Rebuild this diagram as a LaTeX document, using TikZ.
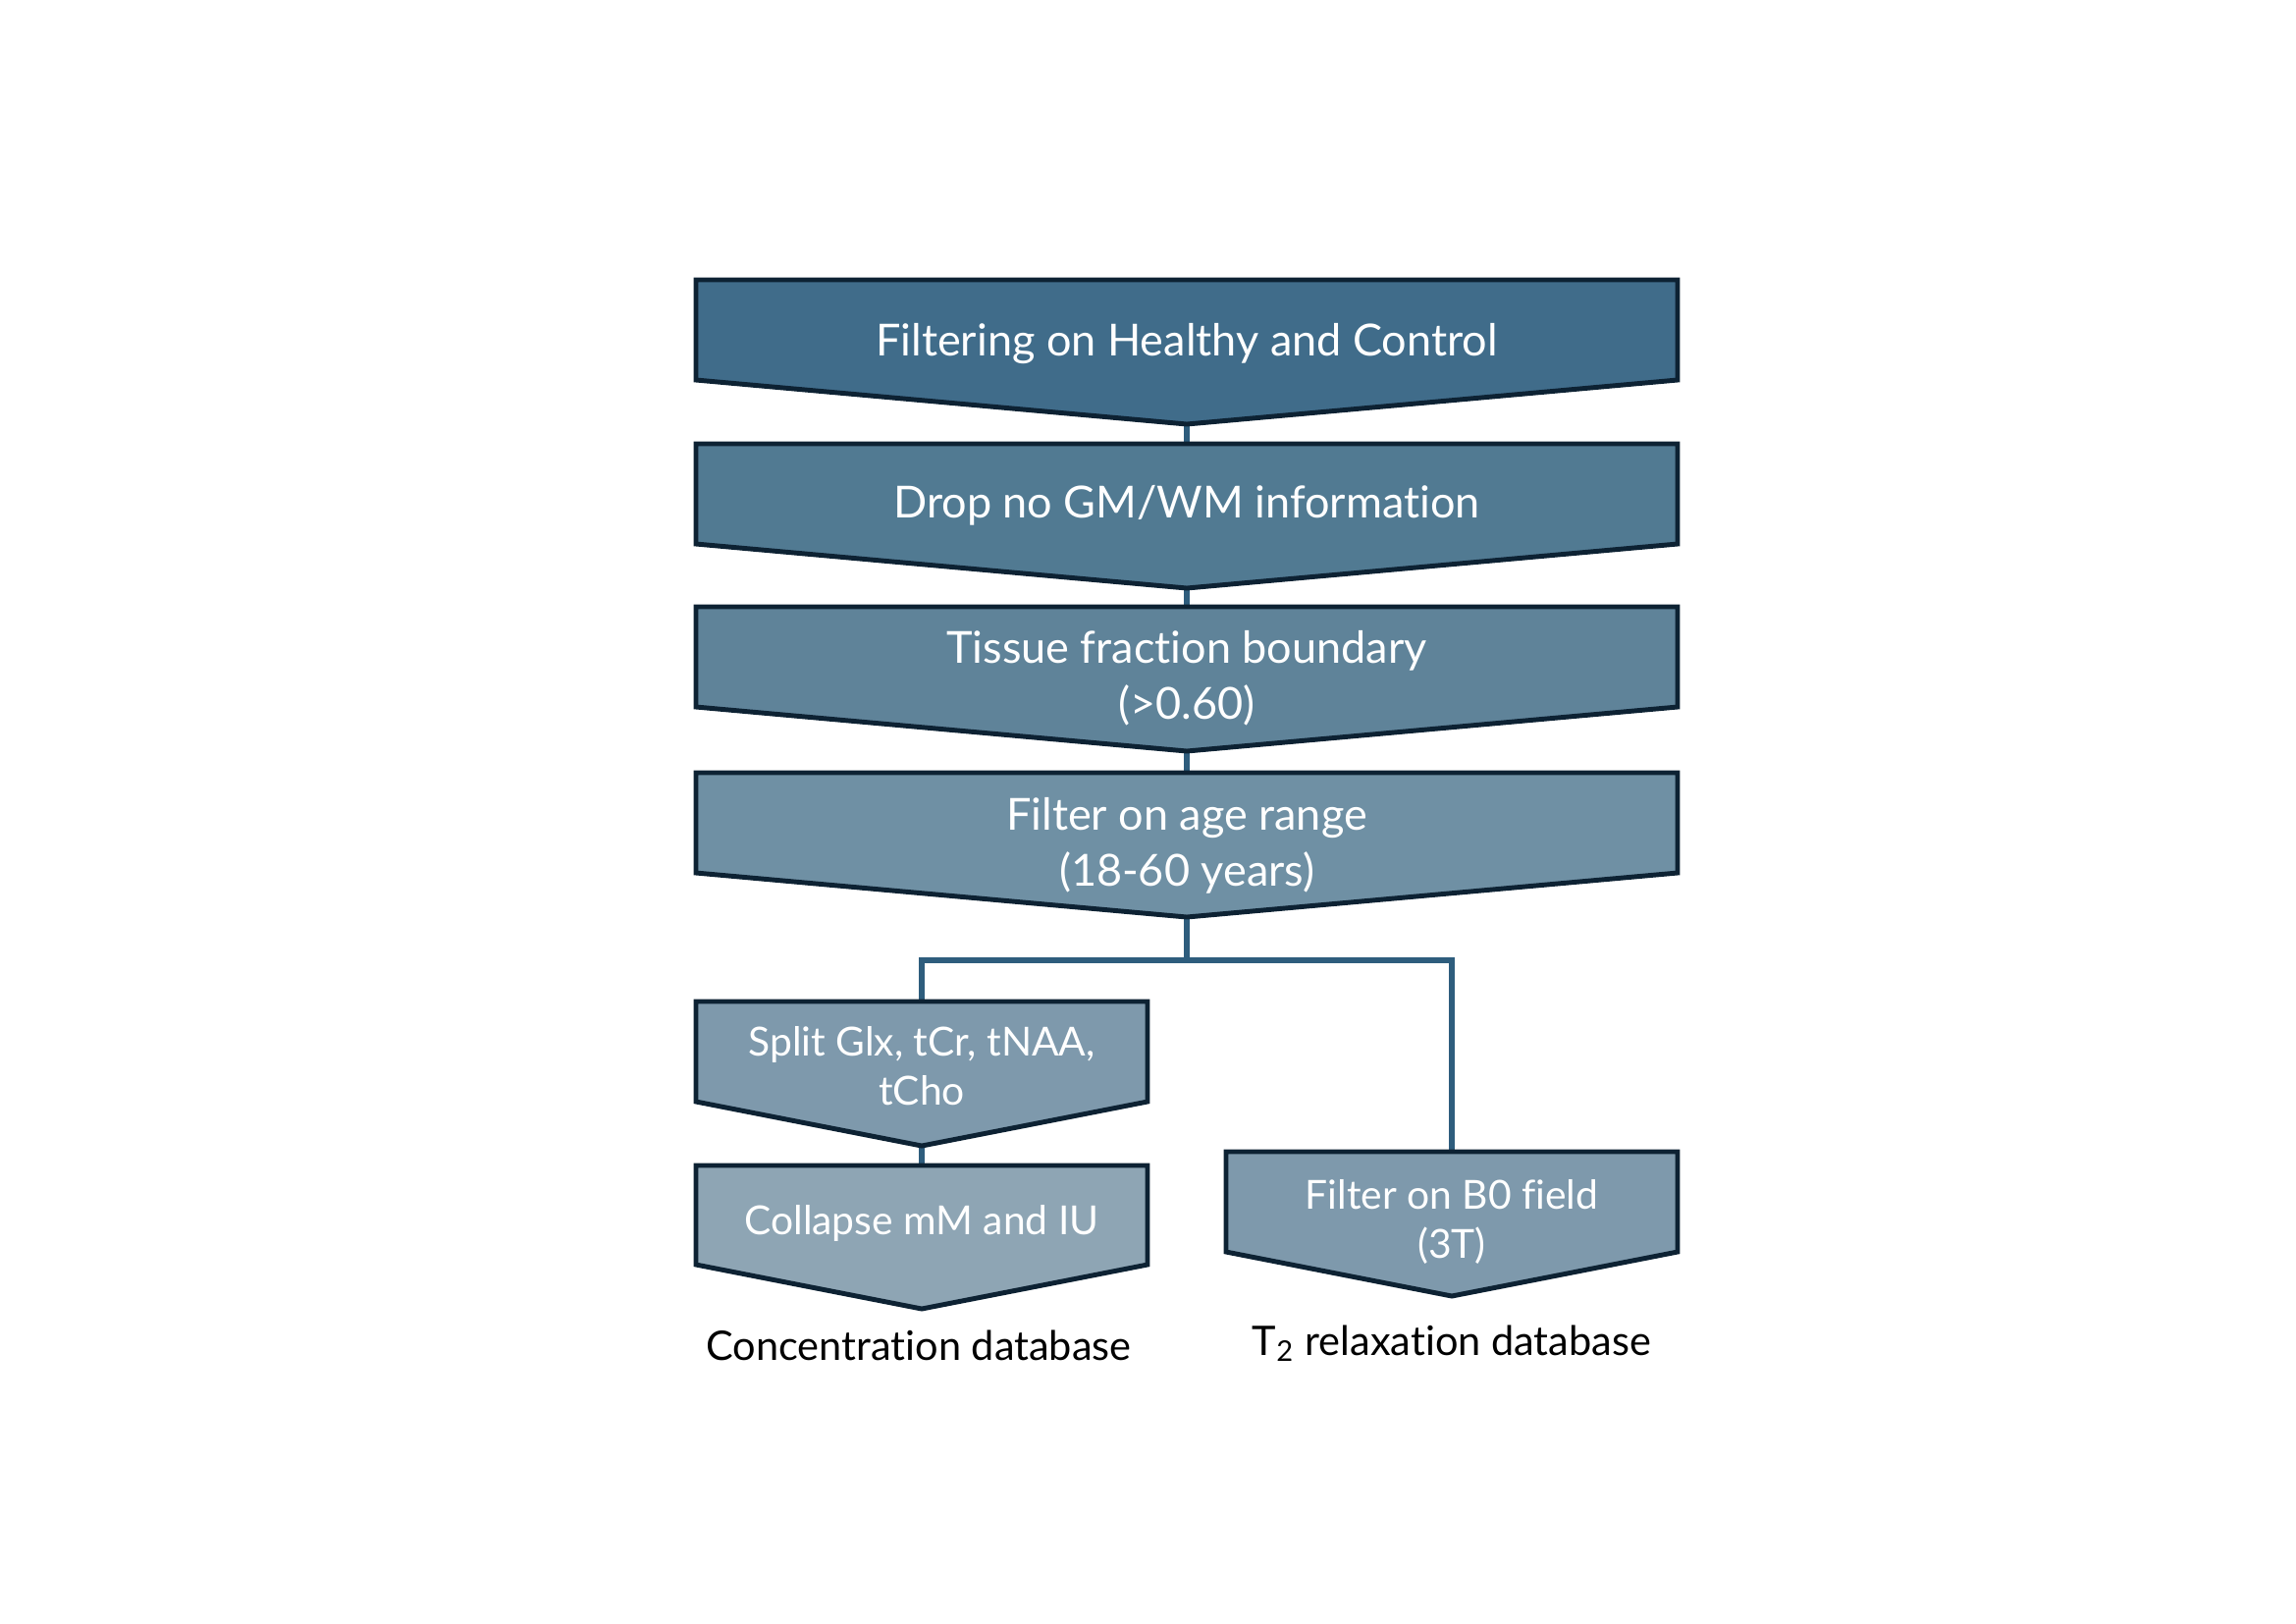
\documentclass[tikz,border=0pt]{standalone}
\usepackage{fontspec}
\setmainfont[Ligatures=NoCommon]{Lato}
\usepackage{tikz}

\definecolor{edge}{HTML}{0D2233}
\definecolor{linkblue}{HTML}{2E5D7D}
\definecolor{stepA}{HTML}{406C8A}
\definecolor{stepB}{HTML}{517A92}
\definecolor{stepC}{HTML}{5F8399}
\definecolor{stepD}{HTML}{6F90A4}
\definecolor{stepE}{HTML}{7E99AC}
\definecolor{stepF}{HTML}{8EA5B4}

\tikzset{
    chevron/.style={draw=edge, line width=1.4pt, line join=miter},
    bigtext/.style={text=white, font=\fontsize{12.8}{16}\selectfont, align=center, anchor=base},
    smalltext/.style={text=white, font=\fontsize{11.6}{14.2}\selectfont, align=center, anchor=base},
    dbtext/.style={text=black, font=\fontsize{11.8}{14}\selectfont, anchor=base},
    link/.style={draw=linkblue, line width=1.8pt},
}

\begin{document}
\begin{tikzpicture}
    \useasboundingbox (0,0) rectangle (23.39,-16.53);

    % Connectors
    \coordinate (top1) at (12.09,-2.85);
    \coordinate (top2) at (12.09,-4.52);
    \coordinate (top3) at (12.09,-6.18);
    \coordinate (top4) at (12.09,-7.87);
    \coordinate (tip1) at (12.09,-4.32);
    \coordinate (tip2) at (12.09,-5.99);
    \coordinate (tip3) at (12.09,-7.65);
    \coordinate (tip4) at (12.09,-9.34);
    \coordinate (branch) at (12.09,-9.78);
    \coordinate (splittop) at (9.39,-10.20);
    \coordinate (splittip) at (9.39,-11.67);
    \coordinate (collapsetop) at (9.39,-11.87);
    \coordinate (fieldtop) at (14.79,-11.73);

    \draw[link] (tip1) -- (top2);
    \draw[link] (tip2) -- (top3);
    \draw[link] (tip3) -- (top4);
    \draw[link] (tip4) -- (branch) -| (splittop);
    \draw[link] (branch) -| (fieldtop);
    \draw[link] (splittip) -- (collapsetop);

    % Main filtering steps
    \foreach \y/\col in {2.85/stepA, 4.52/stepB, 6.18/stepC, 7.87/stepD}
        \filldraw[chevron, fill=\col] (7.09,-\y) -- (17.09,-\y) -- (17.09,-\y-1.02)
            -- (12.09,-\y-1.47) -- (7.09,-\y-1.02) -- cycle;

    % Branch steps
    \filldraw[chevron, fill=stepE] (7.09,-10.20) -- (11.69,-10.20) -- (11.69,-11.22)
        -- (9.39,-11.67) -- (7.09,-11.22) -- cycle;
    \filldraw[chevron, fill=stepF] (7.09,-11.87) -- (11.69,-11.87) -- (11.69,-12.88)
        -- (9.39,-13.33) -- (7.09,-12.88) -- cycle;
    \filldraw[chevron, fill=stepE] (12.49,-11.73) -- (17.09,-11.73) -- (17.09,-12.75)
        -- (14.79,-13.20) -- (12.49,-12.75) -- cycle;

    % Step texts (base = last line)
    \node[bigtext] (health) at (12.09,-3.62) {Filtering on Healthy and Control};
    \node[bigtext] (gmwm) at (12.09,-5.27) {Drop no GM/WM information};
    \node[bigtext] (tissue) at (12.09,-7.32) {Tissue fraction boundary\\(>0.60)};
    \node[bigtext] (age) at (12.09,-9.02) {Filter on age range\\(18-60 years)};
    \node[smalltext] (split) at (9.39,-11.25) {Split Glx, tCr, tNAA,\\tCho};
    \node[smalltext] (collapse) at (9.39,-12.57) {Collapse mM and IU};
    \node[smalltext] (field) at (14.79,-12.81) {Filter on B0 field\\(3T)};

    % Databases
    \node[dbtext] (conc) at (9.36,-13.85) {Concentration database};
    \node[dbtext] (relax) at (14.79,-13.80) {T\textsubscript{2} relaxation database};
\end{tikzpicture}
\end{document}
